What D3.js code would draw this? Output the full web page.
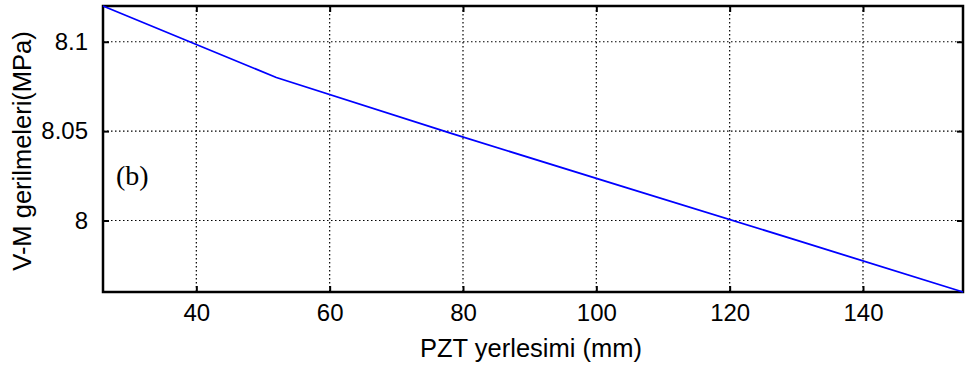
<!DOCTYPE html>
<html>
<head>
<meta charset="utf-8">
<script src="https://cdn.jsdelivr.net/npm/d3@7"></script>
<style>
  body { margin: 0; background: #fff; }
  svg { display: block; }
</style>
</head>
<body>
<div id="chart"></div>
<script>
// values
const xValues = [26, 52, 78, 104, 130, 155];
const yValues = [8.12, 8.08, 8.049, 8.019, 7.989, 7.96];
const xTicks = [40, 60, 80, 100, 120, 140];
const yTicks = [8, 8.05, 8.1];
const xLabel = 'PZT yerlesimi (mm)';
const yLabel = 'V-M gerilmeleri(MPa)';
const panelTag = '(b)';

const width = 965, height = 370;
const margin = { top: 6, right: 2, bottom: 78, left: 103 };
const w = width - margin.left - margin.right;
const h = height - margin.top - margin.bottom;
const sans = '"Liberation Sans", Arial, sans-serif';

const svg = d3.select('#chart').append('svg')
  .attr('width', width)
  .attr('height', height);

const g = svg.append('g')
  .attr('transform', `translate(${margin.left},${margin.top})`);

const x = d3.scaleLinear().domain([26, 155]).range([0, w]);
const y = d3.scaleLinear().domain([7.96, 8.12]).range([h, 0]);

// dotted grid
g.append('g').selectAll('line')
  .data(xTicks).enter().append('line')
  .attr('x1', d => x(d)).attr('x2', d => x(d))
  .attr('y1', 0).attr('y2', h)
  .style('stroke', '#000').style('stroke-width', 1.2)
  .style('stroke-dasharray', '1.5,2.5');

g.append('g').selectAll('line')
  .data(yTicks).enter().append('line')
  .attr('x1', 0).attr('x2', w)
  .attr('y1', d => y(d)).attr('y2', d => y(d))
  .style('stroke', '#000').style('stroke-width', 1.2)
  .style('stroke-dasharray', '1.5,2.5');

// axes with inward ticks
const xAxis = g.append('g')
  .attr('transform', `translate(0,${h})`)
  .call(d3.axisBottom(x).tickValues(xTicks).tickSizeInner(-6).tickSizeOuter(0).tickPadding(12));
const yAxis = g.append('g')
  .call(d3.axisLeft(y).tickValues(yTicks).tickSizeInner(-6).tickSizeOuter(0).tickPadding(15)
    .tickFormat(d => d3.format('~g')(d)));
const xTop = g.append('g')
  .call(d3.axisTop(x).tickValues(xTicks).tickSizeInner(-6).tickSizeOuter(0).tickFormat(''));
const yRight = g.append('g')
  .attr('transform', `translate(${w},0)`)
  .call(d3.axisRight(y).tickValues(yTicks).tickSizeInner(-6).tickSizeOuter(0).tickFormat(''));

[xAxis, yAxis, xTop, yRight].forEach(a => {
  a.select('.domain').remove();
  a.selectAll('.tick line').style('stroke', '#000').style('stroke-width', 2);
  a.selectAll('.tick text')
    .style('font-family', sans)
    .style('font-size', '24px')
    .style('fill', '#000');
});

// frame
g.append('rect')
  .attr('x', 0).attr('y', 0)
  .attr('width', w).attr('height', h)
  .style('fill', 'none')
  .style('stroke', '#000')
  .style('stroke-width', 2.5);

// data line
const line = d3.line()
  .x((d, i) => x(xValues[i]))
  .y(d => y(d));

g.append('path')
  .datum(yValues)
  .attr('d', line)
  .style('fill', 'none')
  .style('stroke', '#0000ff')
  .style('stroke-width', 1.8);

// panel tag
g.append('text')
  .attr('x', 13)
  .attr('y', 179)
  .style('font-family', '"Liberation Serif", "Times New Roman", serif')
  .style('font-size', '28px')
  .text(panelTag);

// axis labels
svg.append('text')
  .attr('x', margin.left + w / 2 - 2)
  .attr('y', 357)
  .attr('text-anchor', 'middle')
  .style('font-family', sans)
  .style('font-size', '25.5px')
  .text(xLabel);

svg.append('text')
  .attr('transform', `translate(31,${margin.top + h / 2 + 2}) rotate(-90)`)
  .attr('text-anchor', 'middle')
  .style('font-family', sans)
  .style('font-size', '25.5px')
  .text(yLabel);
</script>
</body>
</html>
